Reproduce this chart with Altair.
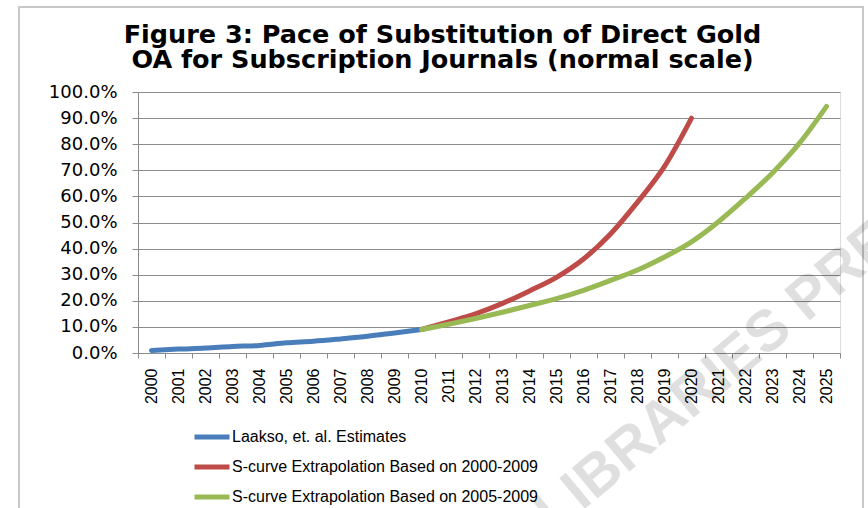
import altair as alt
import pandas as pd

# Year categories on the x axis
years = [str(y) for y in range(2000, 2026)]

# Observed share of gold OA (percent)
laakso_years = [str(y) for y in range(2000, 2011)]
laakso = [1.0, 1.5, 1.9, 2.5, 2.9, 3.9, 4.5, 5.4, 6.4, 7.7, 9.0]

# S-curve fitted to 2000-2009
fit_a_years = [str(y) for y in range(2010, 2021)]
fit_a = [9.0, 11.9, 15.0, 19.0, 23.8, 29.0, 36.0, 45.6, 57.8, 71.5, 90.0]

# S-curve fitted to 2005-2009
fit_b_years = [str(y) for y in range(2010, 2026)]
fit_b = [9.0, 11.0, 13.2, 15.6, 18.2, 20.8, 24.0, 27.8, 31.8, 36.8,
         42.6, 50.3, 59.3, 69.0, 80.4, 94.5]

series_names = [
    "Laakso, et. al. Estimates",
    "S-curve Extrapolation Based on 2000-2009",
    "S-curve Extrapolation Based on 2005-2009",
]
series_colors = ["#4A7EBB", "#BE4B48", "#98B954"]

title_lines = [
    "Figure 3: Pace of Substitution of Direct Gold",
    "OA for Subscription Journals (normal scale)",
]

y_ticks = list(range(0, 101, 10))

rows = []
for name, xs, vs in zip(series_names,
                        [laakso_years, fit_a_years, fit_b_years],
                        [laakso, fit_a, fit_b]):
    for x, v in zip(xs, vs):
        rows.append({"year": x, "share": v, "series": name})
df = pd.DataFrame(rows)

GRID = "#8C8C8C"

x_enc = alt.X(
    "year:O",
    sort=years,
    bandPosition=0.5,
    scale=alt.Scale(type="band", domain=years, paddingInner=0, paddingOuter=0),
    axis=alt.Axis(
        title=None,
        labelAngle=270,
        labelAlign="right",
        labelBaseline="middle",
        labelFont="Liberation Sans",
        labelFontSize=16,
        labelColor="#000000",
        labelPadding=10,
        tickBand="extent",
        tickSize=5,
        tickColor=GRID,
        domainColor=GRID,
        grid=False,
    ),
)

y_enc = alt.Y(
    "share:Q",
    scale=alt.Scale(domain=[0, 100], nice=False),
    axis=alt.Axis(
        title=None,
        values=y_ticks,
        labelExpr="format(datum.value, '.1f') + '%'",
        labelFont="DejaVu Sans",
        labelFontSize=18,
        labelColor="#000000",
        labelPadding=15,
        tickSize=6,
        tickColor=GRID,
        domainColor=GRID,
        grid=True,
        gridColor=GRID,
        gridWidth=1,
    ),
)

lines = alt.Chart(df).mark_line(
    strokeWidth=5, strokeCap="round", strokeJoin="round", interpolate="monotone"
).encode(
    x=x_enc,
    y=y_enc,
    color=alt.Color(
        "series:N",
        sort=series_names,
        scale=alt.Scale(domain=series_names, range=series_colors),
        legend=alt.Legend(
            title=None,
            orient="none",
            legendX=54,
            legendY=325,
            direction="vertical",
            symbolType="stroke",
            symbolSize=1225,
            symbolStrokeWidth=5,
            labelFont="Liberation Sans",
            labelFontSize=16,
            labelColor="#000000",
            labelOffset=0,
            labelLimit=500,
            rowPadding=-8,
            padding=0,
        ),
    ),
)

one = pd.DataFrame({"k": [0]})

# Faint publisher stamp across the lower right
stamp = alt.Chart(one).mark_text(
    text="LIBRARIES PRESS",
    angle=320,
    align="left",
    baseline="middle",
    font="Liberation Sans",
    fontWeight="bold",
    fontSize=58,
    color="#000000",
    opacity=0.12,
).encode(x=alt.value(406), y=alt.value(429))

# Outer frame around the figure
frame = alt.Chart(one).mark_rect(
    fillOpacity=0, stroke="#C8C8C8", strokeWidth=2
).encode(
    x=alt.value(-119), x2=alt.value(725), y=alt.value(-85), y2=alt.value(460)
)

# Two-line heading, centred over the figure
heading = [
    alt.Chart(one).mark_text(
        text=line,
        align="center",
        baseline="alphabetic",
        font="DejaVu Sans",
        fontWeight="bold",
        fontSize=25.5,
        color="#000000",
    ).encode(x=alt.value(304.5), y=alt.value(base))
    for line, base in zip(title_lines, [-49, -24])
]

chart = alt.layer(frame, stamp, *heading, lines).properties(
    width=702,
    height=261,
    autosize=alt.AutoSizeParams(type="none"),
    padding={"left": 138, "top": 92, "right": 28, "bottom": 155},
).configure_view(stroke=None).configure(background="#FFFFFF")

chart.save("out.html", embed_options={"renderer": "svg", "actions": False})
